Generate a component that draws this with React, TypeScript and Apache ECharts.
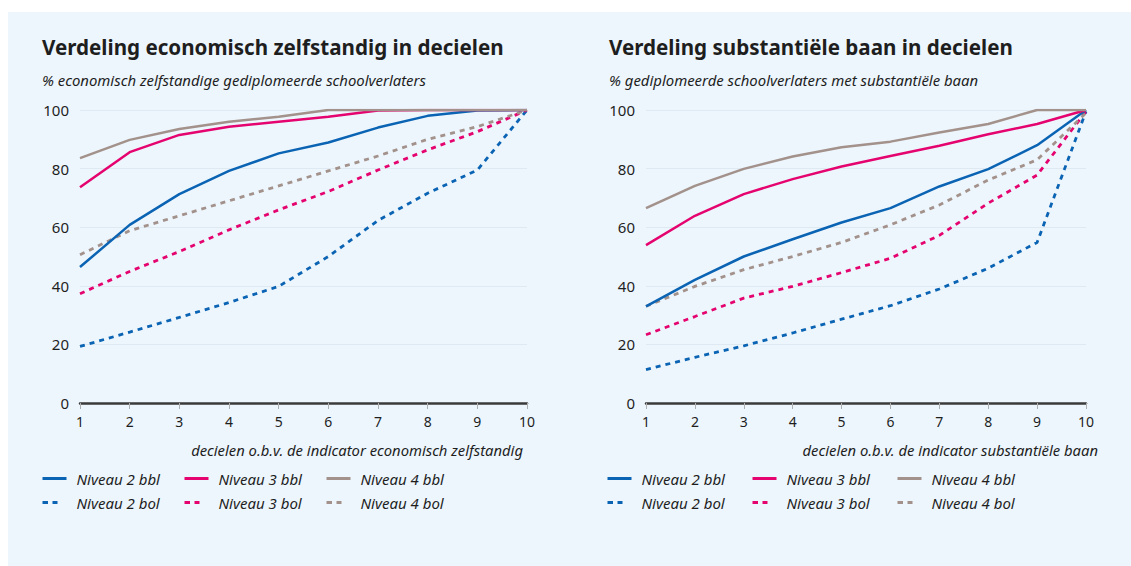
import React, { useEffect, useRef } from "react";
import * as echarts from "echarts";

const deciles = ["1", "2", "3", "4", "5", "6", "7", "8", "9", "10"];
const seriesNames = ["Niveau 2 bbl", "Niveau 3 bbl", "Niveau 4 bbl", "Niveau 2 bol", "Niveau 3 bol", "Niveau 4 bol"];

// Left: economisch zelfstandig
const ezN2bbl = [46.4, 60.8, 71.3, 79.2, 85.2, 88.9, 94, 98, 99.8, 100];
const ezN3bbl = [73.6, 85.6, 91.5, 94.3, 96, 97.7, 99.8, 100, 100, 100];
const ezN4bbl = [83.6, 89.8, 93.5, 96, 97.7, 100, 100, 100, 100, 100];
const ezN2bol = [19.3, 24.2, 29.2, 34.3, 39.8, 50, 62.3, 71.6, 79.5, 100];
const ezN3bol = [37.3, 44.9, 51.7, 59.1, 65.9, 72.2, 79.5, 86.4, 92.6, 100];
const ezN4bol = [50.6, 58.8, 63.9, 69, 74.1, 79.2, 84.3, 90, 94.3, 100];

// Right: substantiële baan
const sbN2bbl = [33, 42, 50, 55.9, 61.6, 66.5, 73.9, 79.8, 88, 100];
const sbN3bbl = [53.9, 63.9, 71.3, 76.4, 80.7, 84.3, 87.8, 91.7, 95.2, 100];
const sbN4bbl = [66.5, 74.1, 79.9, 84.1, 87.3, 89.2, 92.3, 95.2, 100, 100];
const sbN2bol = [11.4, 15.6, 19.5, 23.9, 28.6, 33.2, 38.9, 46, 54.8, 99.5];
const sbN3bol = [23.3, 29.5, 35.8, 39.8, 44.5, 49.4, 57.2, 68.2, 77.8, 99.5];
const sbN4bol = [33, 39.8, 45.5, 50, 54.8, 60.8, 67.6, 76.1, 83, 99];

const yTicks = [0, 20, 40, 60, 80, 100];

const BLUE = "#0a63b3";
const PINK = "#e5046f";
const GREY = "#a3918b";
const colors = [BLUE, PINK, GREY, BLUE, PINK, GREY];
const TEXT = "#1e1e1e";
const FONT = "'Noto Sans', 'Open Sans', sans-serif";

export default function App() {
  const ref = useRef<HTMLDivElement>(null);
  useEffect(() => {
    if (!ref.current) return;
    const chart = echarts.init(ref.current, undefined, { renderer: "svg" });

    const grids = [
      { left: 72, top: 98, width: 447, height: 293 },
      { left: 638, top: 98, width: 440, height: 293 },
    ];

    const mkX = (gi: number) => ({
      type: "category",
      gridIndex: gi,
      data: deciles,
      boundaryGap: false,
      axisLine: { show: true, lineStyle: { color: "#3a3a3a", width: 2.5 } },
      axisTick: { show: true, length: 6, lineStyle: { color: "#b0b0b0", width: 1 } },
      axisLabel: { color: TEXT, fontSize: 14, fontFamily: FONT, margin: 11 },
      splitLine: { show: false },
    });
    const mkY = (gi: number) => ({
      type: "value",
      gridIndex: gi,
      min: yTicks[0],
      max: yTicks[yTicks.length - 1],
      interval: 20,
      axisLine: { show: false },
      axisTick: { show: false },
      axisLabel: { color: TEXT, fontSize: 15, fontFamily: FONT, margin: 11 },
      splitLine: { show: true, lineStyle: { color: "#dfe9f1", width: 1 } },
    });

    const leftData = [ezN2bbl, ezN3bbl, ezN4bbl, ezN2bol, ezN3bol, ezN4bol];
    const rightData = [sbN2bbl, sbN3bbl, sbN4bbl, sbN2bol, sbN3bol, sbN4bol];

    const mkSeries = (data: number[][], gi: number) =>
      data.map((d, i) => ({
        name: seriesNames[i],
        type: "line",
        xAxisIndex: gi,
        yAxisIndex: gi,
        data: d,
        symbol: "none",
        z: i < 3 ? 3 : 2,
        lineStyle: {
          color: colors[i],
          width: i < 3 ? 2.5 : 2.8,
          type: i < 3 ? "solid" : [5, 5],
        },
        itemStyle: { color: colors[i] },
      }));

    const colLefts = [33, 175, 317, 598, 743, 888];
    const legends: any[] = [];
    colLefts.forEach((left, ci) => {
      const col = ci % 3;
      [col, col + 3].forEach((k, row) => {
        legends.push({
          left,
          top: 459 + row * 24,
          padding: 0,
          itemWidth: 24,
          itemHeight: 14,
          selectedMode: false,
          data: [seriesNames[k]],
          itemStyle: { opacity: 0, borderWidth: 0 },
          lineStyle: k < 3 ? { width: 3, type: "solid" } : { width: 3, type: [5.5, 4.5, 5, 30] },
          textStyle: {
            color: TEXT,
            fontSize: 15,
            fontStyle: "italic",
            fontFamily: FONT,
            padding: [0, 0, 0, 5],
          },
        });
      });
    });

    const textEl = (text: string, x: number, y: number, font: string, align = "left") => ({
      type: "text",
      x,
      y,
      style: { text, font, fill: TEXT, textAlign: align, textVerticalAlign: "middle" },
    });

    chart.setOption({
      animation: false,
      backgroundColor: "#edf6fd",
      grid: grids,
      xAxis: [mkX(0), mkX(1)],
      yAxis: [mkY(0), mkY(1)],
      legend: legends,
      series: [...mkSeries(leftData, 0), ...mkSeries(rightData, 1)],
      graphic: [
        textEl("Verdeling economisch zelfstandig in decielen", 34, 35, `bold 20.6px ${FONT}`),
        textEl("% economisch zelfstandige gediplomeerde schoolverlaters", 34, 68, `italic 14.9px ${FONT}`),
        textEl("Verdeling substantiële baan in decielen", 601, 35, `bold 20.6px ${FONT}`),
        textEl("% gediplomeerde schoolverlaters met substantiële baan", 601, 68, `italic 14.9px ${FONT}`),
        textEl("decielen o.b.v. de indicator economisch zelfstandig", 515, 438, `italic 14.8px ${FONT}`, "right"),
        textEl("decielen o.b.v. de indicator substantiële baan", 1090, 438, `italic 14.8px ${FONT}`, "right"),
      ],
    });
    return () => chart.dispose();
  }, []);
  return (
    <div
      ref={ref}
      style={{ position: "absolute", left: 8, top: 12, width: 1123, height: 554 }}
    />
  );
}
